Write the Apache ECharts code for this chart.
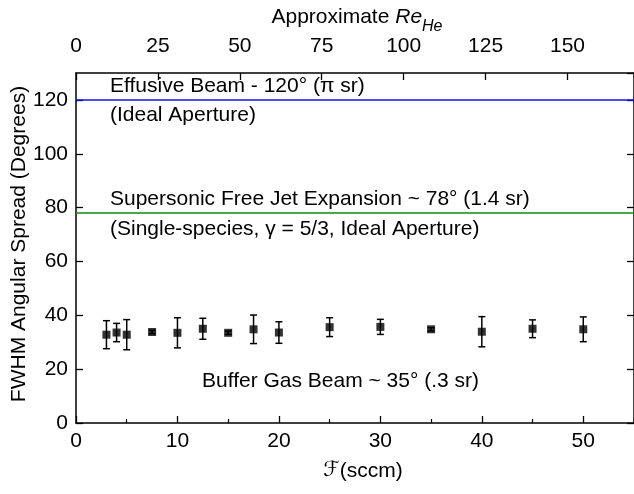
<!DOCTYPE html>
<html><head><meta charset="utf-8">
<script src="https://cdn.jsdelivr.net/npm/echarts@6/dist/echarts.min.js"></script>
<style>html,body{margin:0;padding:0;background:#fff}#c{width:634px;height:494px}</style>
</head><body><div id="c"></div>
<script>
// ---- data ----
const flow = [3, 4, 5, 7.5, 10, 12.5, 15, 17.5, 20, 25, 30, 35, 40, 45, 50];
const spread = [32.8, 33.6, 32.8, 33.8, 33.5, 35.0, 33.5, 34.8, 33.6, 35.6, 35.7, 34.8, 33.9, 35.0, 34.8];
const spreadErr = [5.2, 3.4, 5.6, 0.6, 5.6, 3.9, 0.6, 5.3, 4.0, 3.5, 2.8, 0.6, 5.6, 3.3, 4.6];
const effusiveAngle = 120;
const supersonicAngle = 78;
const xRange = [0, 55];
const reRange = [0, 170.3];
const yRange = [0, 130];
const labelEffusive = 'Effusive Beam - 120° (π sr)';
const labelEffusive2 = '(Ideal Aperture)';
const labelJet = 'Supersonic Free Jet Expansion ~ 78° (1.4 sr)';
const labelJet2 = '(Single-species, γ = 5/3, Ideal Aperture)';
const labelBuffer = 'Buffer Gas Beam ~ 35° (.3 sr)';
const yTitle = 'FWHM Angular Spread (Degrees)';

// ---- chart ----
const FONT = '"Liberation Sans", Arial, sans-serif';
const FS = 21;
const chart = echarts.init(document.getElementById('c'), null, {renderer: 'canvas'});
const axLine = () => ({show: true, onZero: false, lineStyle: {color: '#000', width: 1.5}});
const tick = () => ({show: true, inside: true, length: 7, lineStyle: {color: '#000', width: 1.3}});
const lbl = (o) => Object.assign({color: '#000', fontSize: FS, fontFamily: FONT}, o);

const points = flow.map((f, i) => [f, spread[i], spreadErr[i]]);

function txt(x, y, s, extra) {
  return Object.assign({
    type: 'text', x: x, y: y, silent: true,
    style: {text: s, fill: '#000', font: FS + 'px ' + FONT, textAlign: 'left', textVerticalAlign: 'middle', align: 'left', verticalAlign: 'middle'}
  }, extra || {});
}

chart.setOption({
  animation: false,
  backgroundColor: '#fff',
  grid: {left: 76, right: -3, top: 73, bottom: 71, containLabel: false},
  xAxis: [
    {type: 'value', position: 'bottom', min: xRange[0], max: xRange[1], interval: 10,
     axisLine: axLine(), axisTick: tick(), splitLine: {show: false},
     minorTick: {show: true, splitNumber: 2, length: 4, lineStyle: {color: '#000', width: 1.2}},
     axisLabel: lbl({margin: 8, showMaxLabel: false})},
    {type: 'value', position: 'top', min: reRange[0], max: reRange[1], interval: 25,
     axisLine: axLine(), axisTick: tick(), splitLine: {show: false},
     axisLabel: lbl({margin: 16, showMaxLabel: false})}
  ],
  yAxis: [
    {type: 'value', position: 'left', min: yRange[0], max: yRange[1], interval: 20,
     axisLine: axLine(), axisTick: tick(), splitLine: {show: false},
     axisLabel: lbl({margin: 8, showMaxLabel: false})},
    {type: 'value', position: 'right', min: yRange[0], max: yRange[1], interval: 20,
     axisLine: axLine(), axisTick: tick(), splitLine: {show: false},
     axisLabel: {show: false}}
  ],
  series: [
    {type: 'custom', xAxisIndex: 0, yAxisIndex: 0, data: points, z: 2,
     renderItem: function (params, api) {
       const x = api.value(0), y = api.value(1), e = api.value(2);
       const top = api.coord([x, y + e]);
       const bot = api.coord([x, y - e]);
       const cw = 3.5;
       const st = {stroke: '#000', lineWidth: 1.5};
       return {type: 'group', children: [
         {type: 'line', shape: {x1: top[0], y1: top[1], x2: bot[0], y2: bot[1]}, style: st},
         {type: 'line', shape: {x1: top[0] - cw, y1: top[1], x2: top[0] + cw, y2: top[1]}, style: st},
         {type: 'line', shape: {x1: bot[0] - cw, y1: bot[1], x2: bot[0] + cw, y2: bot[1]}, style: st}
       ]};
     }},
    {type: 'scatter', xAxisIndex: 0, yAxisIndex: 0, data: points.map(p => [p[0], p[1]]), z: 3,
     symbol: 'rect', symbolSize: 8, itemStyle: {color: '#000'},
     markLine: {silent: true, symbol: ['none', 'none'], label: {show: false},
       data: [
         {yAxis: effusiveAngle, lineStyle: {color: '#1010ee', width: 1.6, type: 'solid'}},
         {yAxis: supersonicAngle, lineStyle: {color: '#108a10', width: 1.6, type: 'solid'}}
       ]}}
  ],
  graphic: [
    txt(110, 86, labelEffusive),
    txt(110, 115, labelEffusive2),
    txt(110, 199, labelJet),
    txt(110, 229, labelJet2),
    txt(202, 381, labelBuffer),
    txt(19, 244, yTitle, {rotation: Math.PI / 2, style: {text: yTitle, fill: '#000', font: FS + 'px ' + FONT, textAlign: 'center', textVerticalAlign: 'middle', align: 'center', verticalAlign: 'middle'}}),
    {type: 'text', x: 363, y: 471, silent: true,
     style: {text: '{f|ℱ}{n|(sccm)}', textAlign: 'center', textVerticalAlign: 'middle', align: 'center', verticalAlign: 'middle',
       rich: {f: {fontFamily: '"DejaVu Sans"', fontStyle: 'italic', fontSize: 21, fill: '#000'},
              n: {fontFamily: FONT, fontSize: FS, fill: '#000'}}}},
    {type: 'text', x: 357, y: 17, silent: true,
     style: {text: '{n|Approximate }{i|Re}{s|He}', textAlign: 'center', textVerticalAlign: 'middle', align: 'center', verticalAlign: 'middle',
       rich: {n: {fontFamily: FONT, fontSize: FS, fill: '#000', lineHeight: 36, verticalAlign: 'middle'},
              i: {fontFamily: FONT, fontSize: FS, fontStyle: 'italic', fill: '#000', lineHeight: 36, verticalAlign: 'middle'},
              s: {fontFamily: FONT, fontSize: 16, fontStyle: 'italic', fill: '#000', lineHeight: 36, verticalAlign: 'bottom'}}}}
  ]
});
</script></body></html>
